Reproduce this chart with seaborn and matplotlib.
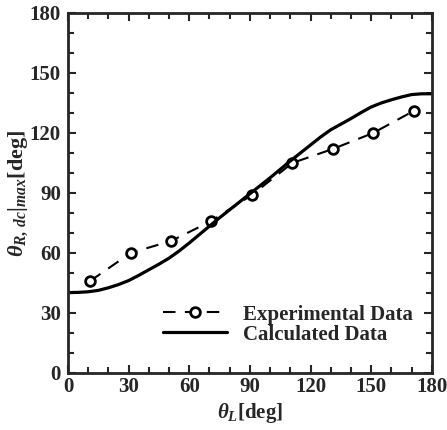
import numpy as np
import pandas as pd
import seaborn as sns
import matplotlib
matplotlib.use("Agg")
import matplotlib.pyplot as plt
import matplotlib.ticker as ticker

# experimental points
exp_theta_l = [11, 31, 51, 71, 91, 111, 131, 151, 171]
exp_theta_r = [46, 60, 66, 76, 89, 105, 112, 120, 131]

# calculated curve
calc_theta_l = [0, 5, 10, 15, 20, 25, 30, 35, 40, 45, 50, 55, 60, 65, 70, 75, 80, 85, 90,
                95, 100, 105, 110, 115, 120, 125, 130, 135, 140, 145, 150, 155, 160, 165,
                170, 175, 180]
calc_theta_r = [40.2, 40.3, 40.6, 41.3, 42.6, 44.2, 46.2, 48.8, 51.6, 54.4, 57.4, 61.0, 65.0,
                69.2, 73.4, 77.6, 81.6, 85.6, 89.6, 93.6, 97.6, 101.8, 106.0, 110.0, 114.0,
                118.0, 121.6, 124.4, 127.2, 130.2, 133.0, 135.0, 136.6, 138.0, 139.2, 139.6,
                139.6]

sns.set_style("ticks")
plt.rcParams["font.family"] = ["Liberation Serif", "DejaVu Serif"]
plt.rcParams["font.weight"] = "bold"
plt.rcParams["mathtext.fontset"] = "custom"
plt.rcParams["mathtext.rm"] = "Liberation Serif:bold"
plt.rcParams["mathtext.it"] = "Liberation Serif:bold:italic"
plt.rcParams["mathtext.bf"] = "Liberation Serif:bold"

fig = plt.figure(figsize=(4.47, 4.30), dpi=100)
ax = fig.add_axes([0.152, 0.1326, 0.814, 0.8372])

exp_df = pd.DataFrame({"x": exp_theta_l, "y": exp_theta_r})
calc_df = pd.DataFrame({"x": calc_theta_l, "y": calc_theta_r})

sns.lineplot(data=exp_df, x="x", y="y", ax=ax, color="black", linewidth=1.5,
             linestyle=(0, (6, 4.5)), marker="o", markersize=7, markerfacecolor="white",
             markeredgecolor="black", markeredgewidth=2, label="Experimental Data")
sns.lineplot(data=calc_df, x="x", y="y", ax=ax, color="black", linewidth=2.3,
             label="Calculated Data")

ax.set_xlim(0, 180)
ax.set_ylim(0, 180)
ax.xaxis.set_major_locator(ticker.MultipleLocator(30))
ax.yaxis.set_major_locator(ticker.MultipleLocator(30))
ax.xaxis.set_minor_locator(ticker.MultipleLocator(10))
ax.yaxis.set_minor_locator(ticker.MultipleLocator(10))
ax.tick_params(which="both", direction="in", top=True, right=True, width=1.5)
ax.tick_params(which="major", length=6, labelsize=15, pad=5)
ax.tick_params(axis="x", which="major", pad=3)
ax.tick_params(which="minor", length=4)
for s in ax.spines.values():
    s.set_linewidth(2)
    s.set_visible(True)

ax.set_xlabel(r"$\theta_L\mathrm{[deg]}$", fontsize=15, labelpad=3)
ax.set_ylabel(r"$\theta_{R,\,dc}|_{max}\mathrm{[deg]}$", fontsize=16)
ax.yaxis.set_label_coords(-0.105, 0.5)

leg = ax.legend(loc="upper left", bbox_to_anchor=(0.209, 0.242), frameon=False,
                fontsize=15, handlelength=3.1, handletextpad=0.75, labelspacing=0.0,
                numpoints=1)

fig.savefig("out.png", dpi=100)
